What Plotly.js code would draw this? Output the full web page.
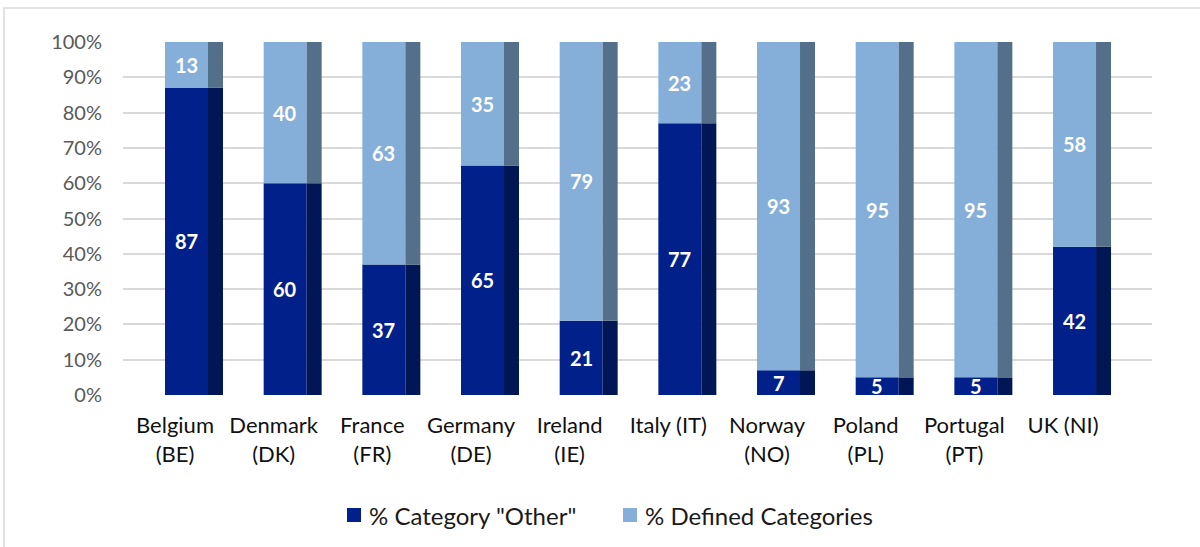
<!DOCTYPE html>
<html>
<head>
<meta charset="utf-8">
<script src="https://cdn.plot.ly/plotly-3.0.1.min.js"></script>
<style>
html,body{margin:0;padding:0;background:#fff;}
#chart{width:1200px;height:547px;}
</style>
</head>
<body>
<div id="chart"></div>
<script>
// ---- data ----
const countries = ["Belgium", "Denmark", "France", "Germany", "Ireland", "Italy (IT)", "Norway", "Poland", "Portugal", "UK (NI)"];
const codes     = ["(BE)", "(DK)", "(FR)", "(DE)", "(IE)", "", "(NO)", "(PL)", "(PT)", ""];
const otherPct   = [87, 60, 37, 65, 21, 77, 7, 5, 5, 42];
const definedPct = [13, 40, 63, 35, 79, 23, 93, 95, 95, 58];
const seriesNames = ['% Category "Other"', '% Defined Categories'];
const yTicks = [0, 10, 20, 30, 40, 50, 60, 70, 80, 90, 100];

// ---- layout geometry ----
const W = 1200, H = 547;
const L = 123, R = 1152, T = 42, B = 395;
const px = v => (v - L) / (R - L);
const py = v => (B - v) / (B - T);

const darkFront = '#02208A', darkSide = '#011654';
const lightFront = '#85AFD8', lightSide = '#546F8A';

const idx = countries.map((_, i) => i);
const tickText = countries.map((c, i) => codes[i] ? c + '<br>' + codes[i] : c);

const FRONT_OFF = -0.1013, FRONT_W = 0.4358;
const SIDE_OFF = 0.3344, SIDE_W = 0.152;

function bar(y, base, color, off, w, name) {
  return {
    type: 'bar', x: idx, y: y, base: base, offset: off, width: w,
    marker: {color: color, line: {width: 0}}, name: name,
    showlegend: false, hoverinfo: 'skip'
  };
}

const traces = [
  bar(otherPct, otherPct.map(() => 0), darkFront, FRONT_OFF, FRONT_W, seriesNames[0]),
  bar(otherPct, otherPct.map(() => 0), darkSide, SIDE_OFF, SIDE_W, seriesNames[0]),
  bar(definedPct, otherPct, lightFront, FRONT_OFF, FRONT_W, seriesNames[1]),
  bar(definedPct, otherPct, lightSide, SIDE_OFF, SIDE_W, seriesNames[1])
];

const labelX = i => i + FRONT_OFF + FRONT_W / 2;
const annotations = [];
const valFont = {family: 'Lato', size: 20, color: '#ffffff'};
otherPct.forEach((v, i) => {
  annotations.push({x: labelX(i), y: v / 2, xref: 'x', yref: 'y', text: '<b>' + v + '</b>',
    showarrow: false, font: valFont});
});
definedPct.forEach((v, i) => {
  annotations.push({x: labelX(i), y: otherPct[i] + v / 2, xref: 'x', yref: 'y', text: '<b>' + v + '</b>',
    showarrow: false, font: valFont});
});

// legend (manual)
const legendItems = [
  {sq: 347, tx: 367, color: darkFront, name: seriesNames[0]},
  {sq: 623, tx: 643, color: lightFront, name: seriesNames[1]}
];
const shapes = [
  // outer frame
  {type: 'rect', xref: 'paper', yref: 'paper', x0: px(4), x1: px(1210), y0: py(8), y1: py(560),
   line: {color: '#d9d9d9', width: 1.5}, fillcolor: 'rgba(0,0,0,0)', layer: 'below'}
];
legendItems.forEach(it => {
  shapes.push({type: 'rect', xref: 'paper', yref: 'paper', x0: px(it.sq), x1: px(it.sq + 14),
    y0: py(522), y1: py(508), fillcolor: it.color, line: {width: 0}});
  annotations.push({xref: 'paper', yref: 'paper', x: px(it.tx), y: py(515), xanchor: 'left', yanchor: 'middle',
    text: it.name, showarrow: false, font: {family: 'Lato', size: 24, color: '#1a1a1a'}});
});

const layout = {
  width: W, height: H,
  margin: {l: L, r: W - R, t: T, b: H - B},
  paper_bgcolor: '#ffffff', plot_bgcolor: '#ffffff',
  barmode: 'overlay', showlegend: false,
  xaxis: {
    range: [(L - 175) / 98.67, (R - 175) / 98.67],
    tickmode: 'array', tickvals: idx, ticktext: tickText,
    showgrid: false, zeroline: false, showline: false, ticks: '',
    tickfont: {family: 'Lato', size: 22, color: '#111111'},
    ticklabelstandoff: 15
  },
  yaxis: {
    range: [0, 100], tickmode: 'array', tickvals: yTicks, ticktext: yTicks.map(v => v + '%'),
    showgrid: true, gridcolor: '#d9d9d9', gridwidth: 2,
    zeroline: false, showline: false, ticks: '',
    tickfont: {family: 'Lato', size: 20, color: '#595959'},
    ticklabelstandoff: 20
  },
  shapes: shapes,
  annotations: annotations
};

Plotly.newPlot('chart', traces, layout, {displayModeBar: false, staticPlot: true});
</script>
</body>
</html>
